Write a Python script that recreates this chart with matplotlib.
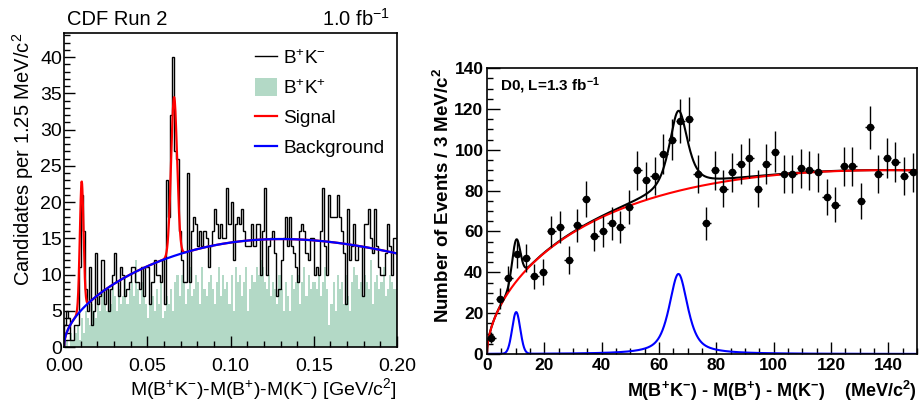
import numpy as np
import matplotlib
matplotlib.use("Agg")
import matplotlib.pyplot as plt
from matplotlib.lines import Line2D
from matplotlib.patches import Patch

plt.rcParams['font.family'] = ['Liberation Sans', 'DejaVu Sans']
plt.rcParams['mathtext.fontset'] = 'custom'
plt.rcParams['mathtext.rm'] = 'Liberation Sans'
plt.rcParams['mathtext.it'] = 'Liberation Sans:italic'
plt.rcParams['mathtext.bf'] = 'Liberation Sans:bold'

# ---- CDF panel: 160 bins of 1.25 MeV/c^2 from 0 to 0.2 GeV/c^2
cdf_edges = np.linspace(0.0, 0.2, 161)
cdf_bkm = [3, 5, 4, 1, 1, 3, 3, 11, 21, 16,
           8, 5, 11, 3, 5, 13, 6, 7, 12, 6,
           8, 5, 8, 10, 13, 9, 7, 11, 10, 7,
           8, 9, 11, 11, 9, 9, 8, 11, 7, 11,
           11, 6, 9, 12, 10, 10, 9, 12, 6, 23,
           18, 32, 40, 27, 26, 16, 12, 9, 9, 24,
           9, 16, 18, 17, 14, 16, 14, 16, 15, 11,
           14, 16, 19, 17, 15, 17, 15, 15, 22, 17,
           20, 12, 17, 18, 17, 19, 16, 14, 14, 14,
           17, 14, 17, 17, 10, 16, 22, 10, 14, 15,
           16, 13, 7, 8, 12, 15, 18, 14, 18, 14,
           13, 11, 9, 16, 17, 16, 13, 12, 15, 15,
           10, 11, 10, 16, 22, 14, 10, 21, 18, 18,
           18, 21, 18, 16, 13, 6, 19, 12, 14, 17,
           12, 14, 14, 7, 17, 17, 19, 15, 13, 19,
           14, 11, 10, 10, 13, 17, 14, 10, 15, 15]
cdf_bkp = [0, 1, 0, 2, 1, 2, 3, 1, 4, 2,
           5, 4, 3, 6, 5, 4, 7, 5, 8, 6,
           5, 8, 6, 9, 7, 5, 8, 6, 7, 10,
           6, 8, 9, 7, 12, 8, 6, 9, 7, 6,
           4, 6, 7, 5, 8, 6, 9, 4, 5, 7,
           6, 8, 5, 9, 10, 7, 10, 9, 6, 8,
           11, 7, 8, 10, 9, 6, 11, 8, 7, 9,
           10, 8, 6, 9, 11, 7, 10, 8, 9, 6,
           10, 5, 11, 9, 10, 7, 9, 11, 5, 8,
           10, 9, 11, 10, 12, 11, 9, 8, 10, 7,
           9, 8, 6, 10, 8, 5, 9, 7, 5, 10,
           8, 9, 10, 6, 9, 11, 7, 10, 8, 9,
           9, 8, 10, 7, 9, 11, 8, 3, 6, 9,
           5, 10, 8, 9, 6, 10, 7, 5, 9, 11,
           10, 8, 9, 7, 10, 9, 8, 12, 6, 9,
           10, 8, 9, 11, 7, 8, 10, 9, 8, 8]
# fit parameters
cdf_bkg_par = [49.6, 1.011, 18.6]            # A*sqrt(x)*exp(b*x - c*x^2)
cdf_sig_mean = [0.0106, 0.0661]
cdf_sig_amp = [17.7, 21.9]
cdf_sig_width = [0.0011, 0.0018]

# ---- D0 panel: 3 MeV/c^2 bins
d0_x = np.arange(1.5, 150, 3.0)
d0_n = [8, 27, 37, 49, 47, 38, 40, 60, 62, 46,
        63, 76, 58, 60, 64, 62, 72, 90, 85, 87,
        98, 105, 114, 115, 88, 64, 90, 81, 89, 93,
        96, 81, 93, 99, 88, 88, 91, 90, 89, 77,
        73, 92, 92, 75, 111, 88, 96, 94, 87, 89]
d0_bkg_par = [10.3, 0.55, 0.00393]           # A*x^p*exp(-b*x)
d0_sig_mean = [10.2, 66.8]
d0_sig_amp = [20.4, 39.2]
d0_sig_fwhm = [3.3, 7.7]
d0_sig_eta = [0.0, 0.7]                      # Lorentzian fraction


def cdf_bkg(x):
    a, b, c = cdf_bkg_par
    return a * np.sqrt(x) * np.exp(b * x - c * x**2)


def cdf_sig(x):
    s = np.zeros_like(x)
    for m, a, w in zip(cdf_sig_mean, cdf_sig_amp, cdf_sig_width):
        s += a * np.exp(-0.5 * ((x - m) / w)**2)
    return s


def d0_bkg(x):
    a, p, b = d0_bkg_par
    return a * x**p * np.exp(-b * x)


def d0_sig(x):
    s = np.zeros_like(x)
    for m, a, f, eta in zip(d0_sig_mean, d0_sig_amp, d0_sig_fwhm, d0_sig_eta):
        sig = f / 2.3548
        g = np.exp(-0.5 * ((x - m) / sig)**2)
        lor = 1.0 / (1.0 + ((x - m) / (f / 2))**2)
        s += a * (eta * lor + (1 - eta) * g)
    return s


fig = plt.figure(figsize=(9.2, 4.05), dpi=100)

# ---------------- left: CDF
ax1 = fig.add_axes([0.0696, 0.1432, 0.362, 0.775])
green = '#b3d9c6'
ax1.stairs(cdf_bkp, cdf_edges, fill=True, color=green, lw=0)
ax1.stairs(cdf_bkm, cdf_edges, color='black', lw=1.0)
xf = np.linspace(0.0, 0.2, 1200)
ax1.plot(xf, cdf_bkg(xf) + cdf_sig(xf), color='#ff0000', lw=1.6)
ax1.plot(xf, cdf_bkg(xf), color='#0000ff', lw=1.6)
ax1.set_xlim(0, 0.2)
ax1.set_ylim(0, 43.3)
ax1.set_xticks([0, 0.05, 0.1, 0.15, 0.2])
ax1.set_xticklabels(['0.00', '0.05', '0.10', '0.15', '0.20'])
ax1.set_xticks(np.arange(0, 0.2001, 0.01), minor=True)
ax1.set_yticks(np.arange(0, 41, 5))
ax1.set_yticks(np.arange(0, 44, 1), minor=True)
ax1.tick_params(which='both', direction='in', top=False, right=False,
                labelsize=14, width=1.0)
ax1.tick_params(axis='x', pad=8)
ax1.tick_params(axis='y', pad=1.5)
ax1.tick_params(which='major', length=8)
ax1.tick_params(which='minor', length=4)
for s in ax1.spines.values():
    s.set_linewidth(1.2)
ax1.set_xlabel(r'M(B$^{+}$K$^{-}$)-M(B$^{+}$)-M(K$^{-}$) [GeV/c$^{2}$]',
               fontsize=14, loc='right', labelpad=1)
ax1.set_ylabel(r'Candidates per 1.25 MeV/c$^{2}$', fontsize=14.5, loc='top',
               labelpad=3)
ax1.text(0.01, 1.012, 'CDF Run 2', transform=ax1.transAxes, fontsize=14.5,
         ha='left', va='bottom')
ax1.text(0.98, 1.012, r'1.0 fb$^{-1}$', transform=ax1.transAxes, fontsize=14.5,
         ha='right', va='bottom')
handles = [Line2D([], [], color='black', lw=1.0),
           Patch(facecolor=green, edgecolor='none'),
           Line2D([], [], color='#ff0000', lw=1.6),
           Line2D([], [], color='#0000ff', lw=1.6)]
labels = [r'B$^{+}$K$^{-}$', r'B$^{+}$K$^{+}$', 'Signal', 'Background']
ax1.legend(handles, labels, loc='upper left', bbox_to_anchor=(0.55, 0.975),
           frameon=False, fontsize=13.7, handlelength=1.15, handleheight=1.05,
           handletextpad=0.35, labelspacing=0.55, borderaxespad=0)

# ---------------- right: D0
ax2 = fig.add_axes([0.5293, 0.1259, 0.4674, 0.706])
xr = np.linspace(0.0, 150, 1500)
ax2.plot(xr, d0_bkg(xr) + d0_sig(xr), color='black', lw=1.5)
ax2.plot(xr, d0_bkg(xr), color='#ff0000', lw=1.5)
ax2.plot(xr, d0_sig(xr), color='#0000ff', lw=1.5)
ax2.errorbar(d0_x, d0_n, yerr=np.sqrt(d0_n), xerr=1.5, fmt='o', color='black',
             ms=4.5, elinewidth=1.0, capsize=0)
ax2.set_xlim(0, 150)
ax2.set_ylim(0, 140)
ax2.set_xticks(np.arange(0, 141, 20))
ax2.set_xticks(np.arange(0, 151, 5), minor=True)
ax2.set_yticks(np.arange(0, 141, 20))
ax2.set_yticks(np.arange(0, 141, 5), minor=True)
ax2.tick_params(which='both', direction='in', top=False, right=False,
                labelsize=12.5, width=1.0)
ax2.tick_params(axis='x', pad=3)
ax2.tick_params(axis='y', pad=2.5)
ax2.tick_params(which='major', length=9)
ax2.tick_params(which='minor', length=4.5)
for lab in ax2.get_xticklabels() + ax2.get_yticklabels():
    lab.set_fontweight('bold')
for s in ax2.spines.values():
    s.set_linewidth(1.2)
ax2.set_xlabel(r'M(B$^{\mathbf{+}}$K$^{\mathbf{-}}$) - M(B$^{\mathbf{+}}$) - M(K$^{\mathbf{-}}$)    (MeV/c$^{\mathbf{2}}$)',
               fontsize=13, fontweight='bold', loc='right', labelpad=4)
ax2.set_ylabel(r'Number of Events / 3 MeV/c$^{\mathbf{2}}$', fontsize=13.5,
               fontweight='bold', loc='top', labelpad=1)
ax2.text(0.03, 0.975, r'D0, L=1.3 fb$^{\mathbf{-1}}$', transform=ax2.transAxes,
         fontsize=11, fontweight='bold', ha='left', va='top')

fig.savefig('out.png', dpi=100)
